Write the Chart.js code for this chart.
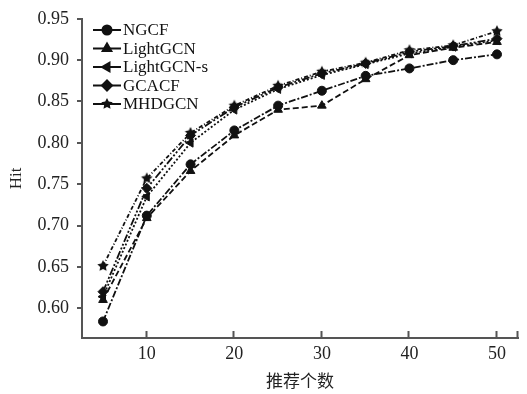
<!DOCTYPE html>
<html>
<head>
<meta charset="utf-8">
<script src="https://cdn.jsdelivr.net/npm/chart.js@4/dist/chart.umd.min.js"></script>
<style>
  html, body { margin: 0; padding: 0; background: #fff; }
  #box { width: 527px; height: 394px; }
</style>
</head>
<body>
<div id="box"><canvas id="hitChart"></canvas></div>
<script>
// data
const topN = [5, 10, 15, 20, 25, 30, 35, 40, 45, 50];
const ngcf = [0.584, 0.712, 0.774, 0.815, 0.845, 0.863, 0.881, 0.890, 0.900, 0.907];
const lightgcn = [0.610, 0.709, 0.766, 0.809, 0.840, 0.845, 0.877, 0.906, 0.915, 0.922];
const lightgcnS = [0.614, 0.735, 0.800, 0.840, 0.865, 0.882, 0.895, 0.908, 0.916, 0.924];
const gcacf = [0.620, 0.745, 0.809, 0.843, 0.867, 0.884, 0.896, 0.910, 0.917, 0.926];
const mhdgcn = [0.651, 0.757, 0.812, 0.845, 0.869, 0.886, 0.897, 0.912, 0.918, 0.935];
const seriesNames = ['NGCF', 'LightGCN', 'LightGCN-s', 'GCACF', 'MHDGCN'];
const xTicks = [10, 20, 30, 40, 50];
const yTicks = [0.60, 0.65, 0.70, 0.75, 0.80, 0.85, 0.90, 0.95];

const serif = "'Liberation Serif', 'DejaVu Serif', serif";
const cjk = "'Liberation Serif', 'Noto Sans CJK SC', sans-serif";
const ink = '#111';
const axisGray = '#555';

// filled star marker
function makeStar(r) {
    const c = document.createElement('canvas');
    c.width = r * 2 + 2;
    c.height = r * 2 + 2;
    const g = c.getContext('2d');
    g.fillStyle = ink;
    g.beginPath();
    for (let i = 0; i < 10; i++) {
        const ang = -Math.PI / 2 + i * Math.PI / 5;
        const rr = i % 2 === 0 ? r : r * 0.5;
        g.lineTo(r + 1 + rr * Math.cos(ang), r + 1 + rr * Math.sin(ang));
    }
    g.closePath();
    g.fill();
    return c;
}
const star = makeStar(6);

const styles = [
    { point: 'circle', rot: 0, radius: 4.5, dash: [7, 2, 2, 2] },
    { point: 'triangle', rot: 0, radius: 5, dash: [6, 3] },
    { point: 'triangle', rot: -90, radius: 5, dash: [2, 2] },
    { point: 'rectRot', rot: 0, radius: 5, dash: [8, 2, 2, 2, 2, 2] },
    { point: star, rot: 0, radius: 6, dash: [4, 2, 1, 2] }
];
const values = [ngcf, lightgcn, lightgcnS, gcacf, mhdgcn];

const datasets = seriesNames.map((name, i) => ({
    label: name,
    data: topN.map((x, j) => ({ x: x, y: values[i][j] })),
    borderColor: ink,
    backgroundColor: ink,
    borderWidth: 1.8,
    borderDash: styles[i].dash,
    pointStyle: styles[i].point,
    pointRotation: styles[i].rot,
    pointRadius: styles[i].radius,
    pointBorderWidth: 1,
    tension: 0
}));

// legend drawn inside the plot, top-left
const innerLegend = {
    id: 'innerLegend',
    afterDatasetsDraw(chart) {
        const ctx = chart.ctx;
        ctx.save();
        seriesNames.forEach((name, i) => {
            const y = 30 + i * 18.5;
            ctx.strokeStyle = ink;
            ctx.lineWidth = 2;
            ctx.setLineDash([]);
            ctx.beginPath();
            ctx.moveTo(93, y);
            ctx.lineTo(121, y);
            ctx.stroke();
            ctx.fillStyle = ink;
            Chart.helpers.drawPoint(ctx, {
                pointStyle: styles[i].point,
                rotation: styles[i].rot,
                radius: styles[i].radius,
                borderWidth: 1
            }, 107, y);
            ctx.font = '17px ' + serif;
            ctx.textBaseline = 'middle';
            ctx.textAlign = 'left';
            ctx.fillText(name, 123, y + 1);
        });
        ctx.restore();
    }
};

// x tick marks pointing up into the plot
const innerTicks = {
    id: 'innerTicks',
    afterDraw(chart) {
        const ctx = chart.ctx;
        const xs = chart.scales.x;
        const bottom = chart.chartArea.bottom;
        ctx.save();
        ctx.strokeStyle = axisGray;
        ctx.lineWidth = 2;
        xTicks.concat([xs.max]).forEach(v => {
            const px = Math.round(xs.getPixelForValue(v)) - 0.5;
            ctx.beginPath();
            ctx.moveTo(px, bottom);
            ctx.lineTo(px, bottom - 7);
            ctx.stroke();
        });
        ctx.restore();
    }
};

new Chart(document.getElementById('hitChart'), {
    type: 'line',
    data: { datasets: datasets },
    options: {
        responsive: true,
        maintainAspectRatio: false,
        animation: false,
        layout: { padding: { top: 15, right: 9, left: 0, bottom: 0 } },
        plugins: {
            legend: { display: false },
            tooltip: { enabled: false }
        },
        scales: {
            x: {
                type: 'linear',
                min: 2.6,
                max: 52.4,
                afterBuildTicks: scale => { scale.ticks = xTicks.map(v => ({ value: v })); },
                afterFit: scale => { scale.height = 56; },
                border: { color: axisGray, width: 2 },
                grid: { display: false, drawTicks: false },
                ticks: {
                    color: '#222',
                    font: { family: serif, size: 18 },
                    padding: 5,
                    maxRotation: 0
                },
                title: {
                    display: true,
                    text: '推荐个数',
                    color: '#222',
                    font: { family: cjk, size: 17 },
                    padding: { top: 4, bottom: 1 }
                }
            },
            y: {
                min: 0.564,
                max: 0.95,
                afterBuildTicks: scale => { scale.ticks = yTicks.map(v => ({ value: v })); },
                afterFit: scale => { scale.width = 82; },
                border: { color: axisGray, width: 2 },
                grid: { drawOnChartArea: false, drawTicks: true, tickLength: 5, color: axisGray, lineWidth: 2 },
                ticks: {
                    color: '#222',
                    font: { family: serif, size: 18 },
                    padding: 8,
                    callback: v => v.toFixed(2)
                },
                title: {
                    display: true,
                    text: 'Hit',
                    color: '#222',
                    font: { family: serif, size: 17 },
                    padding: { top: 6, bottom: 0 }
                }
            }
        }
    },
    plugins: [innerLegend, innerTicks]
});
</script>
</body>
</html>
